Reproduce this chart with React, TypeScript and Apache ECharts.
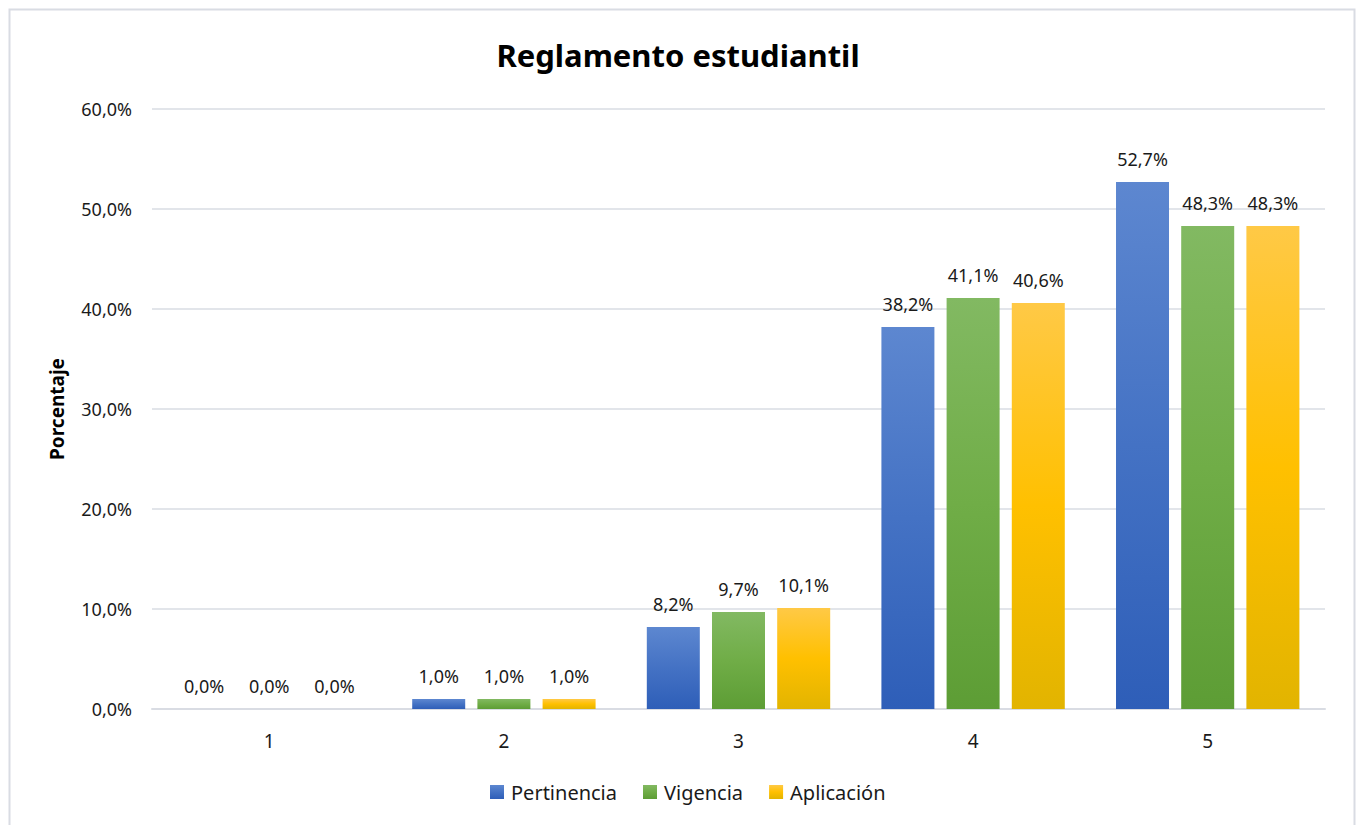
import React, { useEffect, useRef } from "react";
import * as echarts from "echarts";

const categories = ["1", "2", "3", "4", "5"];
const pertinencia = [0.0, 1.0, 8.2, 38.2, 52.7];
const vigencia = [0.0, 1.0, 9.7, 41.1, 48.3];
const aplicacion = [0.0, 1.0, 10.1, 40.6, 48.3];
const seriesNames = ["Pertinencia", "Vigencia", "Aplicación"];
const yTicks = { min: 0, max: 60, interval: 10 };

const FONT = "'Noto Sans', sans-serif";

const grad = (top: string, mid: string, bottom: string) =>
  new echarts.graphic.LinearGradient(0, 0, 0, 1, [
    { offset: 0, color: top },
    { offset: 0.5, color: mid },
    { offset: 1, color: bottom },
  ]);

const fmt = (v: number) => v.toFixed(1).replace(".", ",") + "%";

export default function App() {
  const ref = useRef<HTMLDivElement>(null);
  useEffect(() => {
    if (!ref.current) return;
    const chart = echarts.init(ref.current, null, { renderer: "svg" });
    const colors = [
      grad("#5D87D0", "#4472C4", "#2E5EB8"),
      grad("#82B962", "#70AD47", "#5D9D35"),
      grad("#FFC946", "#FFC000", "#E2B400"),
    ];
    const datas = [pertinencia, vigencia, aplicacion];
    chart.setOption({
      animation: false,
      backgroundColor: "#fff",
      textStyle: { fontFamily: FONT },
      title: {
        text: "Reglamento estudiantil",
        left: "center",
        top: 30,
        textStyle: {
          fontFamily: FONT,
          fontSize: 31,
          fontWeight: "bold",
          color: "#000",
          lineHeight: 40,
        },
      },
      graphic: [
        {
          type: "rect",
          shape: { x: 9.5, y: 9.5, width: 1345, height: 830 },
          style: { fill: "none", stroke: "#D9DCE3", lineWidth: 2 },
          silent: true,
        },
      ],
      legend: {
        data: seriesNames,
        bottom: 18,
        left: 485,
        itemWidth: 14,
        itemHeight: 14,
        itemGap: 26,
        icon: "rect",
        textStyle: { fontFamily: FONT, fontSize: 20, color: "#1a1a1a", padding: [0, 0, 0, 2] },
      },
      grid: { left: 152, right: 31, top: 109, bottom: 116 },
      xAxis: {
        type: "category",
        data: categories,
        axisLine: { lineStyle: { color: "#D9DCE3", width: 2 } },
        axisTick: { show: false },
        axisLabel: {
          fontFamily: FONT,
          fontSize: 19,
          color: "#1a1a1a",
          margin: 22,
        },
      },
      yAxis: {
        type: "value",
        min: yTicks.min,
        max: yTicks.max,
        interval: yTicks.interval,
        name: "Porcentaje",
        nameLocation: "middle",
        nameRotate: 90,
        nameGap: 86,
        nameTextStyle: {
          fontFamily: FONT,
          fontSize: 19,
          fontWeight: "bold",
          color: "#000",
        },
        axisLine: { show: false },
        axisTick: { show: false },
        splitLine: { lineStyle: { color: "#D9DCE3", width: 1.5 } },
        axisLabel: {
          fontFamily: FONT,
          fontSize: 18,
          color: "#1a1a1a",
          margin: 20,
          formatter: (v: number) => fmt(v),
        },
      },
      series: seriesNames.map((name, i) => ({
        name,
        type: "bar",
        data: datas[i],
        barWidth: 53,
        barGap: "23%",
        itemStyle: { color: colors[i] },
        label: {
          show: true,
          position: "top",
          distance: 14,
          fontFamily: FONT,
          fontSize: 18,
          color: "#1a1a1a",
          formatter: (p: any) => fmt(p.value),
        },
      })),
    });
    return () => chart.dispose();
  }, []);
  return (
    <div
      ref={ref}
      style={{ position: "absolute", left: 0, top: 0, width: 1356, height: 825 }}
    />
  );
}
